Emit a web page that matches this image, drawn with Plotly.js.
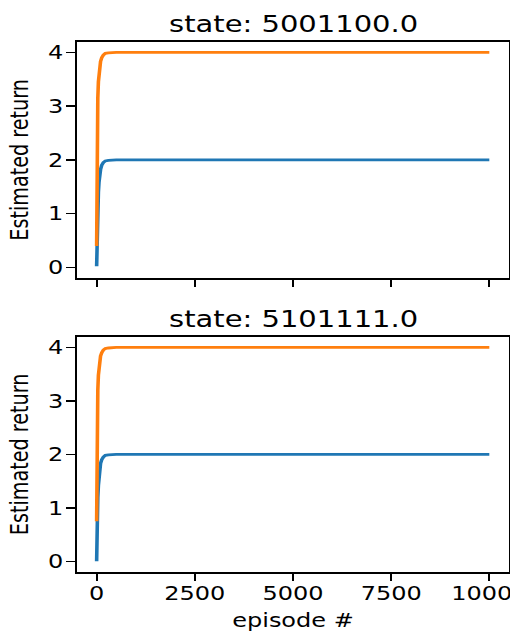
<!DOCTYPE html>
<html>
<head>
<meta charset="utf-8">
<script src="https://cdn.plot.ly/plotly-3.0.1.min.js"></script>
<style>
  html, body { margin: 0; padding: 0; overflow: hidden; background: #fff; }
  #plot { width: 510px; height: 790px; transform: scaleY(0.8); transform-origin: 0 0; }
</style>
</head>
<body>
<div id="plot"></div>
<script>
// Data
const stateTitles = ["state: 5001100.0", "state: 5101111.0"];
const episodes = [0, 5, 10, 20, 30, 45, 60, 80, 100, 130, 170, 220, 300, 500, 1000, 3000, 6000, 9999];
const topBlue = [0.02, 0.3, 0.55, 0.9, 1.15, 1.4, 1.58, 1.72, 1.82, 1.9, 1.95, 1.98, 1.99, 2.0, 2.0, 2.0, 2.0, 2.0];
const topOrange = [0.4, 1.4, 2.1, 2.8, 3.15, 3.45, 3.62, 3.75, 3.83, 3.9, 3.95, 3.98, 3.99, 4.0, 4.0, 4.0, 4.0, 4.0];
const bottomBlue = [0.0, 0.35, 0.6, 0.95, 1.2, 1.42, 1.6, 1.74, 1.83, 1.9, 1.95, 1.98, 1.99, 2.0, 2.0, 2.0, 2.0, 2.0];
const bottomOrange = [0.75, 1.6, 2.25, 2.9, 3.2, 3.48, 3.64, 3.76, 3.84, 3.9, 3.95, 3.98, 3.99, 4.0, 4.0, 4.0, 4.0, 4.0];
const xTickVals = [0, 2500, 5000, 7500, 10000];
const xTickText = ["0", "2500", "5000", "7500", "10000"];
const yTickVals = [0, 1, 2, 3, 4];
const xLabel = "episode #";
const yLabel = "Estimated return";

const BLUE = "#1f77b4", ORANGE = "#ff7f0e";
const FONT = "DejaVu Sans";

function line(x, y, color, xa, ya) {
  return { x: x, y: y, type: "scatter", mode: "lines", xaxis: xa, yaxis: ya,
           line: { color: color, width: 3.6 }, hoverinfo: "skip", showlegend: false };
}

const data = [
  line(episodes, topBlue, BLUE, "x", "y"),
  line(episodes, topOrange, ORANGE, "x", "y"),
  line(episodes, bottomBlue, BLUE, "x2", "y2"),
  line(episodes, bottomOrange, ORANGE, "x2", "y2")
];

function xaxis(showLabels, anchor) {
  return {
    domain: [0, 1], anchor: anchor, range: [-500, 10500],
    tickmode: "array", tickvals: xTickVals, ticktext: xTickText,
    showticklabels: showLabels, ticks: "outside", ticklen: 9, tickwidth: 2, tickcolor: "#000",
    showline: true, linecolor: "#000", linewidth: 2, mirror: true,
    showgrid: false, zeroline: false, automargin: false, ticklabeloverflow: "allow",
    tickfont: { family: FONT, size: 24, color: "#000" }, ticklabelstandoff: -5
  };
}
function yaxis(domain, anchor) {
  return {
    domain: domain, anchor: anchor, range: [-0.2, 4.2],
    tickmode: "array", tickvals: yTickVals,
    ticks: "outside", ticklen: 9, tickwidth: 2, tickcolor: "#000",
    showline: true, linecolor: "#000", linewidth: 2, mirror: true,
    showgrid: false, zeroline: false, automargin: false,
    tickfont: { family: FONT, size: 24, color: "#000" }, ticklabelstandoff: -2,
    title: { text: yLabel, font: { family: FONT, size: 24, color: "#000" }, standoff: 13 }
  };
}

const x1 = xaxis(false, "y");
const x2 = xaxis(true, "y2");
x2.title = { text: xLabel, font: { family: FONT, size: 24, color: "#000" }, standoff: 18 };

const layout = {
  width: 510, height: 790,
  margin: { l: 77, r: 1, t: 52, b: 75, pad: 0 },
  paper_bgcolor: "#fff", plot_bgcolor: "#fff",
  font: { family: FONT, color: "#000" },
  showlegend: false,
  xaxis: x1, yaxis: yaxis([0.554, 1], "x"),
  xaxis2: x2, yaxis2: yaxis([0, 0.4436], "x2"),
  annotations: [
    { text: stateTitles[0], xref: "paper", yref: "paper", x: 0.5, y: 1, xanchor: "center", yanchor: "bottom",
      yshift: 3, showarrow: false, font: { family: FONT, size: 29, color: "#000" } },
    { text: stateTitles[1], xref: "paper", yref: "paper", x: 0.5, y: 0.4436, xanchor: "center", yanchor: "bottom",
      yshift: 3, showarrow: false, font: { family: FONT, size: 29, color: "#000" } }
  ]
};

Plotly.newPlot("plot", data, layout, { staticPlot: true, displayModeBar: false });
</script>
</body>
</html>
